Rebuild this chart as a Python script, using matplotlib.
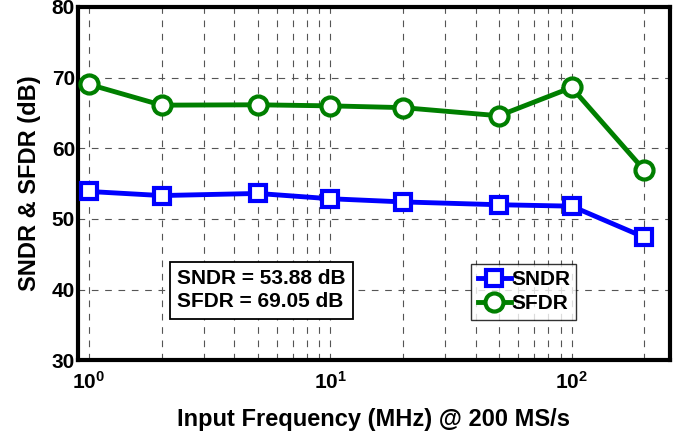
import matplotlib
matplotlib.use("Agg")
import matplotlib.pyplot as plt
from matplotlib.ticker import LogLocator, NullFormatter

plt.rcParams['font.family'] = ['Liberation Sans', 'DejaVu Sans']
plt.rcParams['font.weight'] = 'bold'

freq_mhz = [1, 2, 5, 10, 20, 50, 100, 200]
sndr_db = [53.88, 53.3, 53.6, 52.85, 52.4, 52.0, 51.8, 47.4]
sfdr_db = [69.05, 66.1, 66.15, 66.0, 65.75, 64.6, 68.6, 56.9]
summary_lines = ["SNDR = 53.88 dB", "SFDR = 69.05 dB"]

fig = plt.figure(figsize=(6.89, 4.36), dpi=100)
ax = fig.add_axes([0.113, 0.174, 0.859, 0.81])

ax.plot(freq_mhz, sndr_db, color='#0000ff', lw=3.5, marker='s', ms=11,
        mfc='white', mec='#0000ff', mew=3, label='SNDR', zorder=3)
ax.plot(freq_mhz, sfdr_db, color='#007f00', lw=3.5, marker='o', ms=13,
        mfc='white', mec='#007f00', mew=3, label='SFDR', zorder=3)

ax.set_xscale('log')
ax.set_xlim(0.9, 255)
ax.set_ylim(30, 80)
ax.set_yticks([30, 40, 50, 60, 70, 80])
ax.xaxis.set_major_locator(LogLocator(base=10, numticks=10))
ax.xaxis.set_minor_locator(LogLocator(base=10, subs=range(2, 10), numticks=20))
ax.xaxis.set_minor_formatter(NullFormatter())

ax.grid(True, which='both', axis='x', ls=(0, (6, 6)), color='#555555', lw=0.8)
ax.grid(True, which='major', axis='y', ls=(0, (6, 6)), color='#555555', lw=0.8)

for s in ax.spines.values():
    s.set_linewidth(3)
ax.tick_params(axis='both', which='both', direction='in', labelsize=15, pad=2)
ax.tick_params(axis='x', which='major', length=0, pad=8)
ax.tick_params(axis='x', which='minor', length=0)
ax.tick_params(axis='y', length=0)

ax.set_xlabel('Input Frequency (MHz) @ 200 MS/s', fontsize=17, fontweight='bold', labelpad=11)
ax.set_ylabel('SNDR & SFDR (dB)', fontsize=17, fontweight='bold', labelpad=8)

ax.text(0.168, 0.198, "\n".join(summary_lines), transform=ax.transAxes,
        fontsize=15, fontweight='bold', va='center', ha='left', linespacing=1.3,
        bbox=dict(boxstyle='square,pad=0.35', fc='white', ec='black', lw=1.3))

leg = ax.legend(loc='lower left', bbox_to_anchor=(0.665, 0.115), fontsize=15,
                frameon=True, fancybox=False, edgecolor='black', handlelength=1.6,
                handletextpad=0.0, borderpad=0.3, labelspacing=0.25, borderaxespad=0)
leg.get_frame().set_linewidth(1.0)

fig.savefig('out.png', dpi=100)
